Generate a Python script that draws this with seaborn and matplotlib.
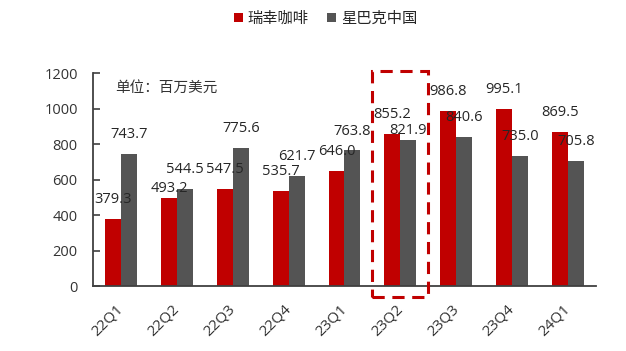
import pandas as pd
import numpy as np
import matplotlib.pyplot as plt
import seaborn as sns
from matplotlib.patches import Rectangle

# 数据
quarters = ['22Q1', '22Q2', '22Q3', '22Q4', '23Q1', '23Q2', '23Q3', '23Q4', '24Q1']
luckin = [379.3, 493.2, 547.5, 535.7, 646.0, 855.2, 986.8, 995.1, 869.5]
starbucks = [743.7, 544.5, 775.6, 621.7, 763.8, 821.9, 840.6, 735.0, 705.8]
series_names = ['瑞幸咖啡', '星巴克中国']
colors = ['#C00000', '#545454']
highlight = '23Q2'

df = pd.DataFrame({
    '季度': quarters * 2,
    '营收': luckin + starbucks,
    '品牌': [series_names[0]] * len(quarters) + [series_names[1]] * len(quarters),
})

sns.set_style('white')
plt.rcParams['font.family'] = ['Open Sans', 'Noto Sans CJK SC', 'DejaVu Sans']

fig = plt.figure(figsize=(6.26, 3.51), dpi=100)
ax = fig.add_axes([0.1486, 0.185, 0.8034, 0.607])

sns.barplot(data=df, x='季度', y='营收', hue='品牌', palette=colors,
            width=0.57, gap=0, saturation=1, linewidth=0, ax=ax)

# 数据标签 (两处原图标签贴得更近)
near = {(0, 1), (1, 5)}
for si, cont in enumerate(ax.containers):
    for qi, bar in enumerate(cont):
        h = bar.get_height()
        off = 7 if (si, qi) in near else 14
        ax.annotate(f'{h:.1f}', (bar.get_x() + bar.get_width() / 2, h),
                    xytext=(0, off), textcoords='offset points',
                    ha='center', va='center', fontsize=10.5, color='#262626')

ax.set_ylim(0, 1200)
ax.set_xlim(-0.5, len(quarters) - 0.5)
ax.set_yticks(range(0, 1201, 200))
ax.set_xlabel('')
ax.set_ylabel('')

# 刻度
ax.set_xticks(np.arange(-0.5, len(quarters), 1), minor=True)
ax.tick_params(axis='x', which='major', length=0, pad=15)
ax.tick_params(axis='x', which='minor', direction='in', length=5, width=1.2, color='#404040')
ax.tick_params(axis='y', direction='in', length=5, width=1.2, color='#404040',
               labelsize=10.5, pad=11, left=True)
for lab in ax.get_xticklabels():
    lab.set_rotation(45)
    lab.set_ha('right')
    lab.set_va('center')
    lab.set_rotation_mode('anchor')
    lab.set_fontsize(11)
    lab.set_color('#333333')
    lab.set_x(lab.get_position()[0])
for lab in ax.get_yticklabels():
    lab.set_color('#333333')

sns.despine(ax=ax)
for s in ['left', 'bottom']:
    ax.spines[s].set_color('#404040')
    ax.spines[s].set_linewidth(1.3)

ax.text(0.045, 0.93, '单位：百万美元', transform=ax.transAxes,
        fontsize=10.5, color='#333333', va='center')

# 高亮框
hi = quarters.index(highlight)
ax.add_patch(Rectangle((hi - 0.5, -62), 1.0, 1275, fill=False,
                       edgecolor='#C00000', linestyle=(0, (4, 2.5)),
                       linewidth=2.2, clip_on=False, zorder=5))

handles, labels = ax.get_legend_handles_labels()
ax.get_legend().remove()
fig.legend(handles, labels, loc='center', bbox_to_anchor=(0.52, 0.945), ncol=2,
           frameon=False, fontsize=11, handlelength=0.6, handleheight=0.6,
           handletextpad=0.3, columnspacing=1.2)

fig.savefig('out.png', dpi=100)
